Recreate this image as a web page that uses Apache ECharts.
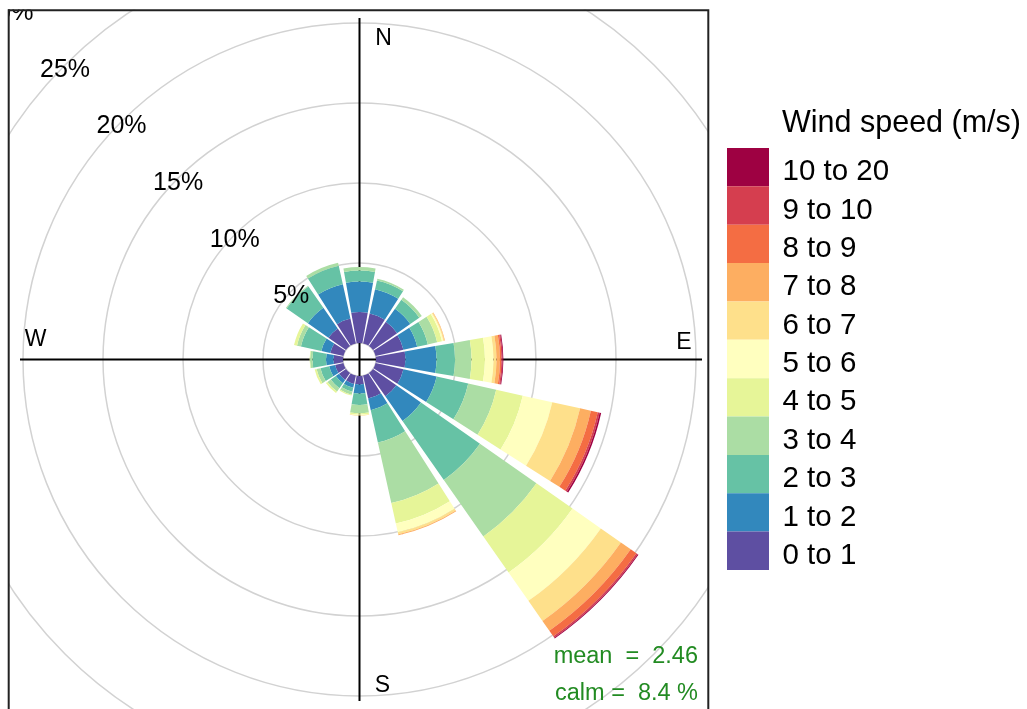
<!DOCTYPE html>
<html><head><meta charset="utf-8">
<script src="https://cdn.jsdelivr.net/npm/echarts@6/dist/echarts.min.js"></script>
<style>html,body{margin:0;padding:0;background:#fff}#c{width:1027px;height:709px}</style>
</head><body><div id="c"></div>
<script>
// ---- data ----
const directions = ['N','NNE','NE','ENE','E','ESE','SE','SSE','S','SSW','SW','WSW','W','WNW','NW','NNW'];
const speedBins = ['0 to 1','1 to 2','2 to 3','3 to 4','4 to 5','5 to 6','6 to 7','7 to 8','8 to 9','9 to 10','10 to 20'];
const binColors = ['#5E4FA2','#3288BD','#66C2A5','#ABDDA4','#E6F598','#FFFFBF','#FEE08B','#FDAE61','#F46D43','#D53E4F','#9E0142'];
const ringTicks = [0, 5, 10, 15, 20, 25, 30];
// percentage frequency of each speed bin, by direction (N ... NNW)
const bin0to1   = [1.94,1.91,1.84,1.78,1.84,1.78,1.78,1.47,0.53,0.53,0.53,0.53,0.59,0.84,1.34,1.59];
const bin1to2   = [1.90,1.56,1.00,0.88,1.94,2.13,1.88,0.75,0.56,0.25,0.25,0.38,0.47,0.57,1.57,2.19];
const bin2to3   = [0.69,0.56,0.69,0.68,1.16,2.02,4.50,2.06,0.72,0.25,0.38,0.56,0.85,1.31,1.62,1.19];
const bin3to4   = [0.22,0.10,0.19,0.60,1.03,1.79,4.31,3.88,0.53,0.19,0.25,0.25,0.15,0.25,0.06,0.19];
const bin4to5   = [0,0,0,0.31,0.84,1.70,2.75,1.31,0.07,0.06,0.12,0.12,0.03,0.19,0,0];
const bin5to6   = [0,0,0,0.09,0.53,1.89,2.16,0.56,0.03,0,0,0,0,0,0,0];
const bin6to7   = [0,0,0,0.07,0.19,1.78,1.53,0.13,0.03,0,0,0,0,0,0,0];
const bin7to8   = [0,0,0,0.03,0.22,0.69,0.75,0.06,0,0,0,0,0,0,0,0];
const bin8to9   = [0,0,0,0,0.09,0.44,0.43,0,0,0,0,0,0,0,0,0];
const bin9to10  = [0,0,0,0,0.07,0.12,0.10,0,0,0,0,0,0,0,0,0];
const bin10to20 = [0,0,0,0,0.05,0.10,0.06,0,0,0,0,0,0,0,0,0];
const meanSpeed = 2.46;
const calmPct = 8.4;

const binValues = [bin0to1,bin1to2,bin2to3,bin3to4,bin4to5,bin5to6,bin6to7,bin7to8,bin8to9,bin9to10,bin10to20];

// ---- chart ----
const FONT = 'Liberation Sans, Arial, sans-serif';
const CX = 359.5, CY = 359.5, R0 = 16.5, PX_PER_PCT = 16;
const RMAX = ringTicks[ringTicks.length - 1];
const LEG_LEFT = 727, LEG_TOP = 148, LEG_W = 42, LEG_H = 38.36;
const chart = echarts.init(document.getElementById('c'), null, {renderer: 'canvas'});

const series = speedBins.map((name, i) => ({
  type: 'bar', name: name, coordinateSystem: 'polar', polarIndex: 0, stack: 'rose',
  data: binValues[i], itemStyle: {color: binColors[i]}, barCategoryGap: '11%',
  emphasis: {disabled: true}, z: 2
}));

const textEl = (t, x, y, size, color, align) => ({
  type: 'text', z: 10, x: x, y: y,
  style: {text: t, fill: color, font: size + 'px ' + FONT, textAlign: align || 'center', textVerticalAlign: 'middle'}
});

const legendOrder = speedBins.slice().reverse();
const legendLabels = legendOrder.map((name, i) =>
  textEl(name, LEG_LEFT + LEG_W + 13.5, LEG_TOP + LEG_H * (i + 0.5) + 5, 29.5, '#000', 'left'));

chart.setOption({
  animation: false,
  backgroundColor: '#fff',
  title: {text: 'Wind speed (m/s)', left: 782, top: 108, padding: 0, z: 10,
          textStyle: {fontSize: 30.5, fontWeight: 'normal', color: '#000', fontFamily: FONT}},
  legend: {orient: 'vertical', left: LEG_LEFT, top: LEG_TOP, padding: 0, itemGap: 0, itemWidth: LEG_W, itemHeight: LEG_H,
           icon: 'rect', selectedMode: false, z: 10, data: legendOrder,
           formatter: () => '', textStyle: {fontSize: 1, lineHeight: 1}},
  polar: [
    {center: [CX, CY], radius: [R0, R0 + PX_PER_PCT * RMAX]},
    {center: [CX, CY + 5], radius: [R0, R0 + PX_PER_PCT * RMAX]}
  ],
  angleAxis: [
    {polarIndex: 0, type: 'category', data: directions, startAngle: 90 + 180 / directions.length, clockwise: true,
     boundaryGap: true, axisLine: {show: false}, axisTick: {show: false}, axisLabel: {show: false}, splitLine: {show: false}, z: 0},
    {polarIndex: 1, type: 'value', min: 0, max: 360, startAngle: 135, show: false}
  ],
  radiusAxis: [
    {polarIndex: 0, type: 'value', min: 0, max: RMAX, interval: 5, axisLine: {show: false}, axisTick: {show: false},
     axisLabel: {show: false}, splitLine: {show: true, lineStyle: {color: '#d2d2d2', width: 1.5}}, z: 0},
    {polarIndex: 1, type: 'value', min: 0, max: RMAX, interval: 5, axisLine: {show: false}, axisTick: {show: false},
     splitLine: {show: false}, z: 3,
     axisLabel: {show: true, margin: 0, align: 'center', verticalAlign: 'middle', fontSize: 25, color: '#000', fontFamily: FONT,
                 formatter: v => (v === 0 ? '' : v + '%')}}
  ],
  series: series,
  graphic: {elements: [
    // crosshair (under the petals)
    {type: 'line', z: 1, shape: {x1: CX, y1: 18, x2: CX, y2: 701}, style: {stroke: '#000', lineWidth: 2}},
    {type: 'line', z: 1, shape: {x1: 20, y1: CY, x2: 702, y2: CY}, style: {stroke: '#000', lineWidth: 2}},
    // white margins outside the panel
    {type: 'rect', z: 5, shape: {x: 0, y: 0, width: 8, height: 709}, style: {fill: '#fff'}},
    {type: 'rect', z: 5, shape: {x: 0, y: 0, width: 1027, height: 9.5}, style: {fill: '#fff'}},
    {type: 'rect', z: 5, shape: {x: 709, y: 0, width: 318, height: 709}, style: {fill: '#fff'}},
    // panel border
    {type: 'rect', z: 6, shape: {x: 8.7, y: 10.3, width: 699.6, height: 712}, style: {fill: 'none', stroke: '#222', lineWidth: 2}},
    // compass letters
    textEl('N', 383.5, 38.5, 23, '#000'),
    textEl('E', 684, 342.5, 23, '#000'),
    textEl('S', 382.5, 686, 23, '#000'),
    textEl('W', 35.7, 339.5, 23, '#000'),
    // statistics
    textEl('mean  =  ' + meanSpeed.toFixed(2), 698, 657, 23.5, '#228B22', 'right'),
    textEl('calm =  ' + calmPct.toFixed(1) + ' %', 698, 693.5, 23.5, '#228B22', 'right')
  ].concat(legendLabels)},
});
</script></body></html>
